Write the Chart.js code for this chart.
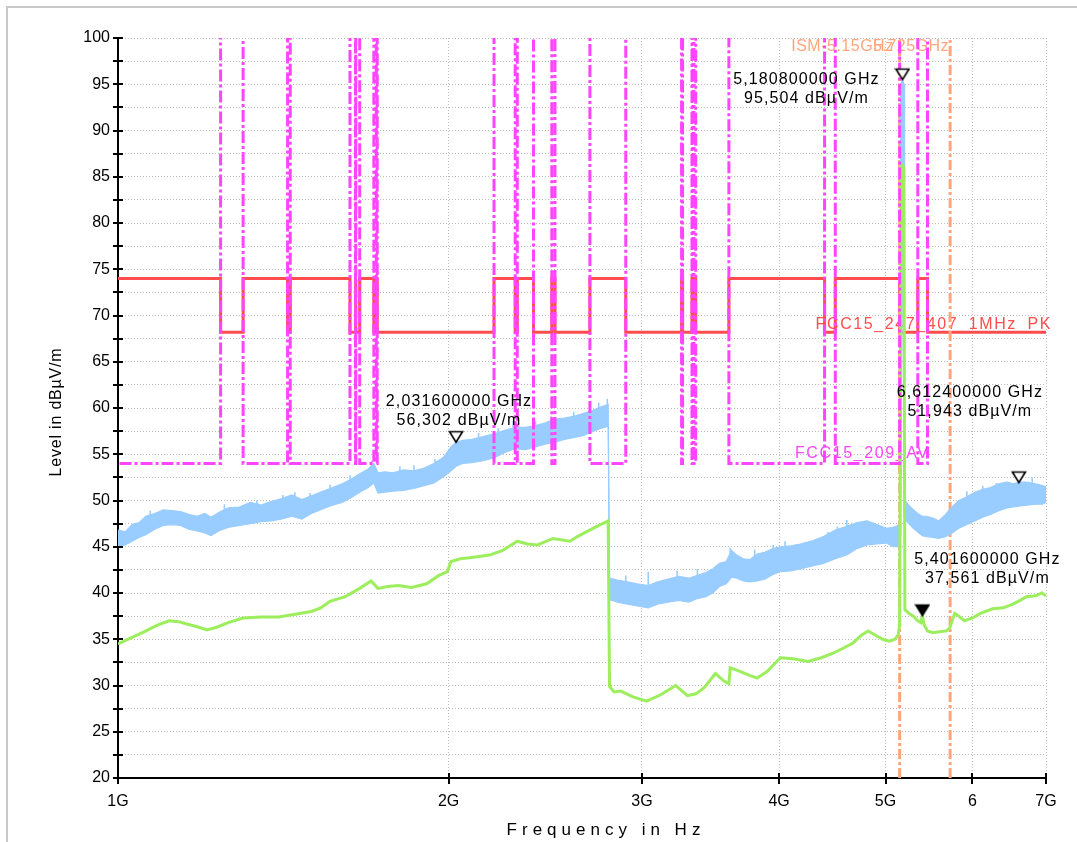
<!DOCTYPE html>
<html>
<head>
<meta charset="utf-8">
<title>Radiated emission 1 - 7 GHz</title>
<script src="https://cdn.jsdelivr.net/npm/chart.js@4.4.0/dist/chart.umd.min.js"></script>
<style>
  html, body { margin: 0; padding: 0; background: #fff; }
  #wrap { position: relative; width: 1077px; height: 842px; overflow: hidden; }
  #emiChart { position: absolute; left: 0; top: 0; }
  #frame { position: absolute; left: 6px; top: 6px; width: 1200px; height: 1000px;
           border-left: 2px solid #c8c8c8; border-top: 2px solid #c8c8c8; pointer-events: none; }
</style>
</head>
<body>
<div id="wrap">
  <canvas id="emiChart" width="1077" height="842"></canvas>
  <div id="frame"></div>
</div>
<script>
// frequencies in GHz, levels in dBuV/m

// peak trace (drawn as the band between its upper and lower noise envelope)
const peakFreq = [1.000, 1.015, 1.030, 1.045, 1.060, 1.080, 1.100, 1.120, 1.140, 1.160, 1.180, 1.200, 1.215, 1.240,
  1.260, 1.290, 1.320, 1.350, 1.380, 1.410, 1.440, 1.470, 1.500, 1.530, 1.560, 1.600, 1.630, 1.660, 1.690, 1.710,
  1.725, 1.750, 1.780, 1.820, 1.860, 1.900, 1.940, 1.980, 2.010, 2.032, 2.060, 2.100, 2.150, 2.200, 2.250, 2.300,
  2.350, 2.400, 2.450, 2.500, 2.550, 2.600, 2.650, 2.700, 2.750, 2.795, 2.803, 2.850, 2.910, 2.970, 3.040, 3.100,
  3.170, 3.240, 3.310, 3.370, 3.430, 3.480, 3.530, 3.580, 3.620, 3.660, 3.710, 3.760, 3.820, 3.880, 3.950, 4.010,
  4.100, 4.180, 4.280, 4.390, 4.500, 4.610, 4.710, 4.810, 4.910, 5.010, 5.080, 5.130, 5.150, 5.156, 5.162, 5.1808,
  5.198, 5.204, 5.250, 5.300, 5.350, 5.400, 5.450, 5.520, 5.590, 5.670, 5.750, 5.830, 5.930, 6.030, 6.130, 6.230,
  6.340, 6.450, 6.540, 6.612, 6.720, 6.850, 6.950, 7.000];
const peakHigh = [46.8, 46.6, 47.4, 47.6, 48.3, 48.6, 49.0, 48.9, 48.8, 48.5, 48.3, 48.6, 48.2, 48.8,
  49.2, 49.3, 49.8, 49.5, 49.9, 50.2, 50.6, 50.1, 50.5, 50.9, 51.3, 51.8, 52.3, 52.9, 53.4, 54.0,
  53.0, 53.1, 53.0, 53.3, 53.2, 53.5, 54.0, 54.7, 55.8, 56.3, 56.5, 56.6, 56.9, 57.2, 57.6, 57.9,
  57.9, 58.1, 58.4, 58.8, 58.9, 59.1, 59.4, 59.7, 60.1, 60.4, 41.6, 41.4, 41.2, 41.0, 40.8, 41.2,
  41.5, 41.8, 41.6, 41.9, 42.2, 42.6, 43.2, 43.4, 44.6, 44.1, 43.7, 43.6, 44.2, 44.4, 44.8, 45.0,
  45.1, 45.3, 45.6, 46.1, 46.8, 47.2, 47.6, 47.8, 47.4, 47.0, 47.1, 47.3, 47.3, 52.8, 95.0, 95.504,
  95.0, 50.0, 49.5, 49.0, 48.6, 48.3, 48.3, 48.1, 47.8, 48.5, 49.3, 50.0, 50.4, 50.9, 51.2, 51.4,
  51.8, 52.0, 51.8, 52.0, 52.0, 51.8, 51.6, 51.5];
const peakLow = [45.0, 45.2, 45.6, 46.0, 46.3, 46.9, 47.3, 47.4, 47.3, 46.9, 46.7, 46.5, 46.2, 46.8,
  47.1, 47.3, 47.5, 47.7, 47.8, 48.0, 48.3, 48.0, 48.6, 49.0, 49.4, 49.8, 50.3, 50.9, 51.4, 51.9,
  50.8, 50.9, 51.0, 51.1, 51.3, 51.6, 51.9, 52.6, 53.2, 53.7, 54.0, 54.1, 54.3, 54.6, 55.2, 55.6,
  55.5, 55.8, 56.1, 56.3, 56.6, 56.8, 57.0, 57.4, 57.8, 58.0, 39.3, 39.0, 38.8, 38.6, 38.4, 38.8,
  39.0, 39.2, 39.0, 39.4, 39.6, 40.0, 40.7, 41.0, 41.7, 41.6, 41.3, 41.2, 41.3, 41.5, 42.0, 42.3,
  42.4, 42.6, 42.9, 43.2, 43.7, 44.1, 44.8, 45.2, 45.3, 45.4, 45.0, 45.0, 45.2, 46.2, 49.0, 86.0,
  49.0, 48.0, 47.5, 47.0, 46.6, 46.2, 46.1, 46.0, 45.9, 46.1, 46.5, 47.0, 47.4, 47.8, 48.2, 48.5,
  48.9, 49.2, 49.3, 49.4, 49.5, 49.6, 49.6, 49.8];

// single noise spikes standing out of the peak band
const spikeFreq = [1.07, 1.25, 1.338, 1.413, 1.449, 1.496, 1.56, 1.627, 1.703, 1.806, 1.86, 1.944, 2.03, 2.13,
  2.22, 2.29, 2.40, 2.48, 2.60, 2.74, 2.79, 2.90, 3.04, 3.23, 3.37, 3.61, 3.80, 3.95, 4.05, 4.43, 4.52, 4.61,
  5.93, 6.13, 6.31, 6.62, 6.80];
const spikeTop = [48.9, 49.6, 50.0, 50.6, 50.9, 50.8, 51.7, 52.7, 54.3, 53.7, 53.8, 54.5, 56.8, 57.3,
  57.8, 58.6, 58.6, 59.1, 59.6, 60.6, 61.0, 41.9, 42.3, 42.4, 42.6, 44.9, 44.7, 45.2, 45.6, 46.6, 47.2, 47.9,
  51.0, 51.6, 51.9, 52.4, 52.5];
const spikeBase = [47.5, 47.8, 48.5, 49.0, 49.3, 49.5, 50.3, 51.2, 52.5, 52.0, 52.2, 52.9, 55.0, 55.4,
  55.8, 56.6, 56.9, 57.3, 57.9, 58.9, 59.2, 40.2, 39.6, 40.4, 40.6, 42.5, 42.7, 43.4, 43.6, 44.8, 45.2, 45.6,
  48.9, 49.7, 50.3, 50.7, 50.7];

// average trace
const avgFreq = [1.000, 1.030, 1.056, 1.085, 1.113, 1.135, 1.160, 1.185, 1.205, 1.230, 1.260, 1.300, 1.350, 1.400,
  1.450, 1.500, 1.530, 1.560, 1.610, 1.660, 1.700, 1.725, 1.760, 1.800, 1.850, 1.910, 1.960, 1.995, 2.010, 2.050,
  2.090, 2.180, 2.240, 2.310, 2.360, 2.410, 2.490, 2.580, 2.620, 2.670, 2.730, 2.795, 2.803, 2.830, 2.870, 2.940,
  3.030, 3.120, 3.220, 3.300, 3.360, 3.420, 3.500, 3.560, 3.600, 3.610, 3.670, 3.760, 3.820, 3.900, 4.010, 4.120,
  4.250, 4.370, 4.480, 4.570, 4.670, 4.750, 4.820, 4.900, 4.970, 5.040, 5.100, 5.135, 5.150, 5.166, 5.181, 5.195,
  5.207, 5.250, 5.300, 5.350, 5.385, 5.402, 5.420, 5.460, 5.520, 5.600, 5.680, 5.720, 5.780, 5.830, 5.900, 6.000,
  6.100, 6.260, 6.400, 6.530, 6.630, 6.720, 6.850, 6.940, 7.000];
const avgLevel = [34.5, 35.2, 35.8, 36.5, 37.0, 36.9, 36.6, 36.3, 36.0, 36.3, 36.8, 37.3, 37.4, 37.4,
  37.7, 38.0, 38.4, 39.1, 39.6, 40.5, 41.3, 40.5, 40.7, 40.8, 40.6, 41.0, 41.9, 42.3, 43.4, 43.7,
  43.8, 44.1, 44.6, 45.6, 45.3, 45.2, 45.9, 45.6, 46.1, 46.6, 47.2, 47.8, 29.9, 29.3, 29.4, 28.8,
  28.3, 29.0, 30.0, 28.9, 29.1, 29.8, 31.3, 30.5, 30.2, 31.9, 31.6, 31.1, 30.8, 31.5, 33.0, 32.9,
  32.6, 33.0, 33.5, 34.0, 34.6, 35.4, 35.9, 35.4, 35.0, 34.8, 35.0, 35.5, 36.6, 86.0, 86.2, 86.0,
  38.2, 37.8, 37.5, 37.0, 36.8, 37.56, 36.6, 35.9, 35.7, 35.8, 35.9, 36.2, 37.8, 37.5, 37.0, 37.3,
  37.8, 38.3, 38.4, 38.8, 39.2, 39.6, 39.7, 40.0, 39.7];

// restricted bands: PK limit 74 inside / 68.2 outside, AV limit 54 inside only
const bandStart = [0.96, 1.3, 1.435, 1.6455, 1.66, 1.7188, 2.2, 2.31, 2.4835, 2.69, 3.26, 3.332, 3.3458, 3.6, 4.5, 5.35];
const bandEnd = [1.24, 1.427, 1.6265, 1.6465, 1.71, 1.7222, 2.3, 2.39, 2.5, 2.9, 3.267, 3.339, 3.358, 4.4, 5.15, 5.46];
const pkInside = 74;
const pkOutside = 68.2;
const avInside = 54;
const avOutside = 130; // no AV limit outside the bands, off the chart
const pkName = 'FCC15_247_407_1MHz_PK';
const avName = 'FCC15_209_AV';

// ISM band edges
const ismFreq = [5.15, 5.725];
const ismLabels = ['ISM-5.15GHz', '5.725GHz'];

// markers
const markerFreq = [2.0316, 5.1808, 6.6124, 5.4016];
const markerLevel = [56.302, 95.504, 51.943, 37.561];
const markerFilled = [false, false, false, true];

// axes
const xTickValues = [1, 2, 3, 4, 5, 6, 7];
const xTickLabels = ['1G', '2G', '3G', '4G', '5G', '6', '7G'];
const yMin = 20, yMax = 100, yStep = 2.5, yLabelEvery = 5;

const BLUE = '#99CCFF';
const GREEN = '#9CEE5C';
const RED = '#FF4D4D';
const MAGENTA = '#FF44FF';
const ORANGE = '#FFA57C';
const GRID = '#BDBDBD';
const FONT = '"Liberation Sans", Arial, sans-serif';

// label placement (pixels)
const markerDx = [3, -96, -49, 65];
const markerDy = [-41, 0, -90, -56];
const ismLabelDx = [-6, -1];

Chart.defaults.font.family = FONT;
Chart.defaults.color = '#000';

function pairs(xs, ys) {
    return xs.map((x, i) => ({ x: x, y: ys[i] }));
}

function stepped(inside, outside) {
    const pts = [{ x: 0.9, y: outside }];
    bandStart.forEach((s, i) => {
        pts.push({ x: s, y: outside }, { x: s, y: inside },
                 { x: bandEnd[i], y: inside }, { x: bandEnd[i], y: outside });
    });
    pts.push({ x: 7.5, y: outside });
    return pts;
}

function spikeSegments() {
    // one vertical stroke per spike, null breaks the line between them
    const pts = [];
    spikeFreq.forEach((f, i) => {
        pts.push({ x: f, y: spikeBase[i] }, { x: f, y: spikeTop[i] }, { x: f, y: null });
    });
    return pts;
}

function triangle(filled) {
    // apex sits at the canvas centre, so the mark points down onto the value
    const c = document.createElement('canvas');
    c.width = 16;
    c.height = 26;
    const g = c.getContext('2d');
    g.beginPath();
    g.moveTo(1.5, 2.5);
    g.lineTo(14.5, 2.5);
    g.lineTo(8, 13);
    g.closePath();
    g.fillStyle = filled ? '#000' : '#fff';
    g.fill();
    g.lineWidth = 1.6;
    g.strokeStyle = '#000';
    g.stroke();
    return c;
}

function fmt(v, digits) {
    return v.toFixed(digits).replace('.', ',');
}

function text(ctx, str, x, y, color, size, align, spacing) {
    ctx.save();
    ctx.font = size + 'px ' + FONT;
    ctx.fillStyle = color;
    ctx.textAlign = align;
    ctx.textBaseline = 'middle';
    if ('letterSpacing' in ctx) ctx.letterSpacing = spacing + 'px';
    ctx.fillText(str, x, y);
    ctx.restore();
}

// names of the limit lines, under the traces
const lineNames = {
    id: 'lineNames',
    beforeDatasetsDraw(chart) {
        const { ctx, scales: { x, y } } = chart;
        text(ctx, pkName, x.getPixelForValue(7) + 6, y.getPixelForValue(pkOutside) - 8, RED, 16, 'right', 1.6);
        text(ctx, avName, x.getPixelForValue(bandEnd[bandEnd.length - 1]) + 2, y.getPixelForValue(avInside) - 10,
             MAGENTA, 16, 'right', 1.6);
        ismFreq.forEach((f, i) => {
            text(ctx, ismLabels[i], x.getPixelForValue(f) + ismLabelDx[i], y.getPixelForValue(yMax) + 9,
                 ORANGE, 16, 'right', 0.5);
        });
    }
};

// axis tick marks crossing the axis lines, marker readouts and axis titles
const overlay = {
    id: 'overlay',
    afterDatasetsDraw(chart) {
        const { ctx, chartArea, scales: { x, y } } = chart;
        ctx.save();
        ctx.strokeStyle = '#000';
        ctx.lineWidth = 2;
        ctx.beginPath();
        y.ticks.forEach(t => {
            const py = Math.round(y.getPixelForValue(t.value));
            ctx.moveTo(chartArea.left - 5, py);
            ctx.lineTo(chartArea.left + 5, py);
        });
        x.ticks.forEach(t => {
            const px = Math.round(x.getPixelForValue(t.value));
            ctx.moveTo(px, chartArea.bottom - 5);
            ctx.lineTo(px, chartArea.bottom + 6);
        });
        ctx.stroke();
        ctx.restore();

        markerFreq.forEach((f, i) => {
            const px = x.getPixelForValue(f) + markerDx[i];
            const py = y.getPixelForValue(markerLevel[i]) + markerDy[i];
            text(ctx, fmt(f, 9) + ' GHz', px, py, '#000', 16, 'center', 1.1);
            text(ctx, fmt(markerLevel[i], 3) + ' dBµV/m', px, py + 19, '#000', 16, 'center', 1.1);
        });

        text(ctx, 'Frequency in Hz', 606, 830, '#000', 17, 'center', 5);
        ctx.save();
        ctx.translate(57, 412);
        ctx.rotate(-Math.PI / 2);
        text(ctx, 'Level in dBµV/m', 0, 0, '#000', 16, 'center', 0.8);
        ctx.restore();
    }
};

const ctx = document.getElementById('emiChart');

new Chart(ctx, {
    type: 'line',
    data: {
        datasets: [
            {
                label: 'Markers',
                data: pairs(markerFreq, markerLevel),
                showLine: false,
                pointRadius: 6,
                pointStyle: markerFilled.map(f => triangle(f))
            },
            {
                label: avName,
                data: stepped(avInside, avOutside),
                borderColor: MAGENTA,
                borderWidth: 3,
                borderDash: [12, 3, 3, 3],
                pointRadius: 0,
                fill: false
            },
            {
                label: 'Average',
                data: pairs(avgFreq, avgLevel),
                borderColor: GREEN,
                borderWidth: 3,
                pointRadius: 0,
                fill: false
            },
            {
                label: 'Peak max',
                data: pairs(peakFreq, peakHigh),
                borderColor: BLUE,
                backgroundColor: BLUE,
                borderWidth: 1.2,
                pointRadius: 0,
                fill: '+1'
            },
            {
                label: 'Peak min',
                data: pairs(peakFreq, peakLow),
                borderColor: BLUE,
                borderWidth: 1.2,
                pointRadius: 0,
                fill: false
            },
            {
                label: 'Peak spikes',
                data: spikeSegments(),
                borderColor: BLUE,
                borderWidth: 1.6,
                pointRadius: 0,
                spanGaps: false,
                fill: false
            },
            ...ismFreq.map(f => ({
                label: 'ISM ' + f,
                data: [{ x: f, y: yMin }, { x: f, y: yMax }],
                borderColor: ORANGE,
                borderWidth: 3,
                borderDash: [10, 3, 3, 3],
                pointRadius: 0,
                fill: false
            })),
            {
                label: pkName,
                data: stepped(pkInside, pkOutside),
                borderColor: RED,
                borderWidth: 3,
                pointRadius: 0,
                fill: false
            }
        ]
    },
    options: {
        responsive: false,
        animation: false,
        events: [],
        layout: { padding: { left: 0, top: 38, right: 31, bottom: 0 } },
        plugins: {
            legend: { display: false },
            tooltip: { enabled: false }
        },
        scales: {
            x: {
                type: 'logarithmic',
                min: 1,
                max: 7,
                afterBuildTicks: (scale) => {
                    scale.ticks = xTickValues.map(v => ({ value: v }));
                },
                afterFit: (scale) => { scale.height = 64; },
                grid: { color: GRID, lineWidth: 1, drawTicks: false },
                border: { display: true, color: '#000', width: 2, dash: [1, 2] },
                ticks: {
                    padding: 14,
                    autoSkip: false,
                    maxRotation: 0,
                    color: '#000',
                    font: { size: 16 },
                    callback: (value) => xTickLabels[xTickValues.indexOf(value)]
                }
            },
            y: {
                min: yMin,
                max: yMax,
                afterFit: (scale) => { scale.width = 118; },
                grid: { color: GRID, lineWidth: 1, drawTicks: false },
                border: { display: true, color: '#000', width: 2, dash: [1, 2] },
                ticks: {
                    stepSize: yStep,
                    padding: 8,
                    autoSkip: false,
                    color: '#000',
                    font: { size: 16 },
                    callback: (value) => (value % yLabelEvery === 0 ? String(value) : '')
                }
            }
        }
    },
    plugins: [lineNames, overlay]
});
</script>
</body>
</html>
